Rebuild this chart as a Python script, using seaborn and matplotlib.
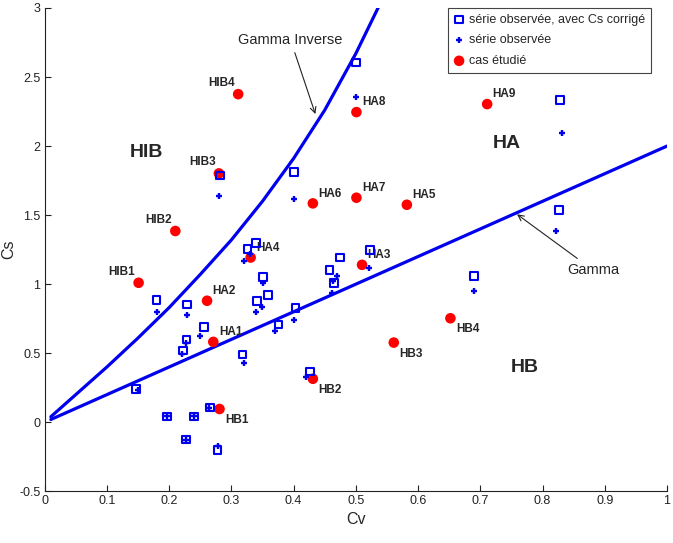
import matplotlib
matplotlib.use('Agg')
import matplotlib.pyplot as plt
import matplotlib.ticker as mtick
import pandas as pd
import seaborn as sns

# Style first, fonts after (set_style resets font.family)
sns.set_style('ticks')
plt.rcParams['font.family'] = ['Liberation Sans', 'DejaVu Sans']
plt.rcParams['axes.unicode_minus'] = False

###################
## Chart values  ##
###################

# cas étudié
CASE_NAMES = ['HIB1', 'HIB2', 'HIB3', 'HIB4',
              'HA1', 'HA2', 'HA3', 'HA4', 'HA5', 'HA6', 'HA7', 'HA8', 'HA9',
              'HB1', 'HB2', 'HB3', 'HB4']
CASE_CV = [0.151, 0.210, 0.280, 0.311,
           0.271, 0.261, 0.510, 0.331, 0.582, 0.431, 0.501, 0.501, 0.711,
           0.281, 0.431, 0.561, 0.652]
CASE_CS = [1.010, 1.385, 1.802, 2.376,
           0.582, 0.880, 1.140, 1.193, 1.575, 1.585, 1.626, 2.246, 2.304,
           0.096, 0.315, 0.577, 0.753]

# série observée, avec Cs corrigé
CORR_CV = [0.147, 0.180, 0.197, 0.240, 0.227, 0.278, 0.266, 0.229, 0.256, 0.228,
           0.222, 0.318, 0.326, 0.340, 0.351, 0.341, 0.359, 0.403, 0.376, 0.426,
           0.282, 0.401, 0.500, 0.458, 0.475, 0.465, 0.523, 0.690, 0.828, 0.826]
CORR_CS = [0.243, 0.887, 0.043, 0.043, -0.125, -0.202, 0.106, 0.854, 0.688, 0.599,
           0.519, 0.491, 1.253, 1.299, 1.053, 0.880, 0.921, 0.828, 0.709, 0.368,
           1.787, 1.813, 2.605, 1.104, 1.193, 1.008, 1.248, 1.061, 2.333, 1.537]

# série observée
OBS_CV = [0.150, 0.180, 0.197, 0.240, 0.227, 0.279, 0.264, 0.229, 0.250, 0.227,
          0.220, 0.321, 0.321, 0.330, 0.351, 0.340, 0.350, 0.401, 0.370, 0.420,
          0.280, 0.401, 0.501, 0.464, 0.470, 0.461, 0.521, 0.690, 0.831, 0.822]
OBS_CS = [0.231, 0.796, 0.043, 0.043, -0.125, -0.170, 0.100, 0.777, 0.628, 0.577,
          0.491, 0.428, 1.169, 1.220, 1.012, 0.796, 0.832, 0.743, 0.664, 0.327,
          1.640, 1.616, 2.354, 1.025, 1.061, 0.938, 1.120, 0.947, 2.095, 1.387]

# Gamma boundary
GAMMA_CV = [0.01, 1.0]
GAMMA_CS = [0.02, 2.0]

# Gamma Inverse boundary
INV_CV = [0.01, 0.05, 0.10, 0.15, 0.20, 0.25, 0.30, 0.35, 0.40, 0.45, 0.50, 0.54]
INV_CS = [0.04, 0.20, 0.40, 0.61, 0.83, 1.07, 1.32, 1.60, 1.91, 2.26, 2.67, 3.04]

X_TICKS = [0, 0.1, 0.2, 0.3, 0.4, 0.5, 0.6, 0.7, 0.8, 0.9, 1]
Y_TICKS = [-0.5, 0, 0.5, 1, 1.5, 2, 2.5, 3]

BLUE = '#0000ee'
RED = '#ff0000'

# label offsets (in points) for each family of cases
LABEL_OFFSETS = {'HIB': (-12, 8, 'center'), 'HA': (4, 7, 'left'), 'HB': (4, -8, 'left')}

############
## Figure ##
############

fig = plt.figure(figsize=(6.73, 5.43), dpi=100)
ax = fig.add_axes([0.0663, 0.0952, 0.9248, 0.8901])

# Boundaries
sns.lineplot(x=GAMMA_CV, y=GAMMA_CS, color=BLUE, linewidth=2.3, ax=ax)
sns.lineplot(x=INV_CV, y=INV_CS, color=BLUE, linewidth=2.3, ax=ax)

# Points
cases = pd.DataFrame({'Cv': CASE_CV, 'Cs': CASE_CS, 'name': CASE_NAMES})
sns.scatterplot(data=cases, x='Cv', y='Cs', color=RED, s=58, edgecolor='none',
                label='cas étudié', zorder=3, ax=ax)
sns.scatterplot(x=CORR_CV, y=CORR_CS, marker='s', s=30, facecolor='none',
                edgecolor=BLUE, linewidth=1.5, label='série observée, avec Cs corrigé',
                zorder=4, ax=ax)
sns.scatterplot(x=OBS_CV, y=OBS_CS, marker='+', s=22, color=BLUE, linewidth=1.7,
                label='série observée', zorder=5, ax=ax)

# Case labels
for _, row in cases.iterrows():
    family = row['name'].rstrip('0123456789')
    dx, dy, ha = LABEL_OFFSETS[family]
    ax.annotate(row['name'], (row['Cv'], row['Cs']), xytext=(dx, dy),
                textcoords='offset points', ha=ha, va='center',
                fontsize=8.5, fontweight='bold')

# Zone names
ax.text(0.163, 1.95, 'HIB', fontsize=14, fontweight='bold', ha='center', va='center')
ax.text(0.742, 2.02, 'HA', fontsize=14, fontweight='bold', ha='center', va='center')
ax.text(0.771, 0.40, 'HB', fontsize=14, fontweight='bold', ha='center', va='center')

# Curve names
arrow = dict(arrowstyle='->', color='#222222', lw=0.8, shrinkA=2, shrinkB=0)
ax.annotate('Gamma Inverse', xy=(0.435, 2.232), xytext=(0.395, 2.77),
            ha='center', va='center', fontsize=10.5, arrowprops=arrow)
ax.annotate('Gamma', xy=(0.759, 1.506), xytext=(0.882, 1.10),
            ha='center', va='center', fontsize=10.5, arrowprops=arrow)

# Axes
ax.set_xlim(0, 1)
ax.set_ylim(-0.5, 3)
ax.xaxis.set_major_locator(mtick.FixedLocator(X_TICKS))
ax.yaxis.set_major_locator(mtick.FixedLocator(Y_TICKS))
ax.xaxis.set_major_formatter(mtick.FuncFormatter(lambda v, _: f'{v:g}'))
ax.yaxis.set_major_formatter(mtick.FuncFormatter(lambda v, _: f'{v:g}'))
ax.tick_params(direction='in', length=4, width=0.8, labelsize=9, pad=3, colors='#222222')
ax.set_xlabel('Cv', fontsize=11.5, labelpad=3)
ax.set_ylabel('Cs', fontsize=11.5, labelpad=2)
sns.despine(ax=ax)
for spine in ax.spines.values():
    spine.set_linewidth(0.8)
    spine.set_color('#222222')

# Legend in the original order
handles, labels = ax.get_legend_handles_labels()
order = ['série observée, avec Cs corrigé', 'série observée', 'cas étudié']
handles = [handles[labels.index(name)] for name in order]
legend = ax.legend(handles, order, loc='upper right', bbox_to_anchor=(0.974, 1.0),
                   borderaxespad=0, fontsize=9, fancybox=False, framealpha=1,
                   handlelength=0.8, handletextpad=0.4, labelspacing=0.7,
                   borderpad=0.45)
legend.get_frame().set_edgecolor('#444444')
legend.get_frame().set_linewidth(0.8)

fig.savefig('out.png', dpi=100)
